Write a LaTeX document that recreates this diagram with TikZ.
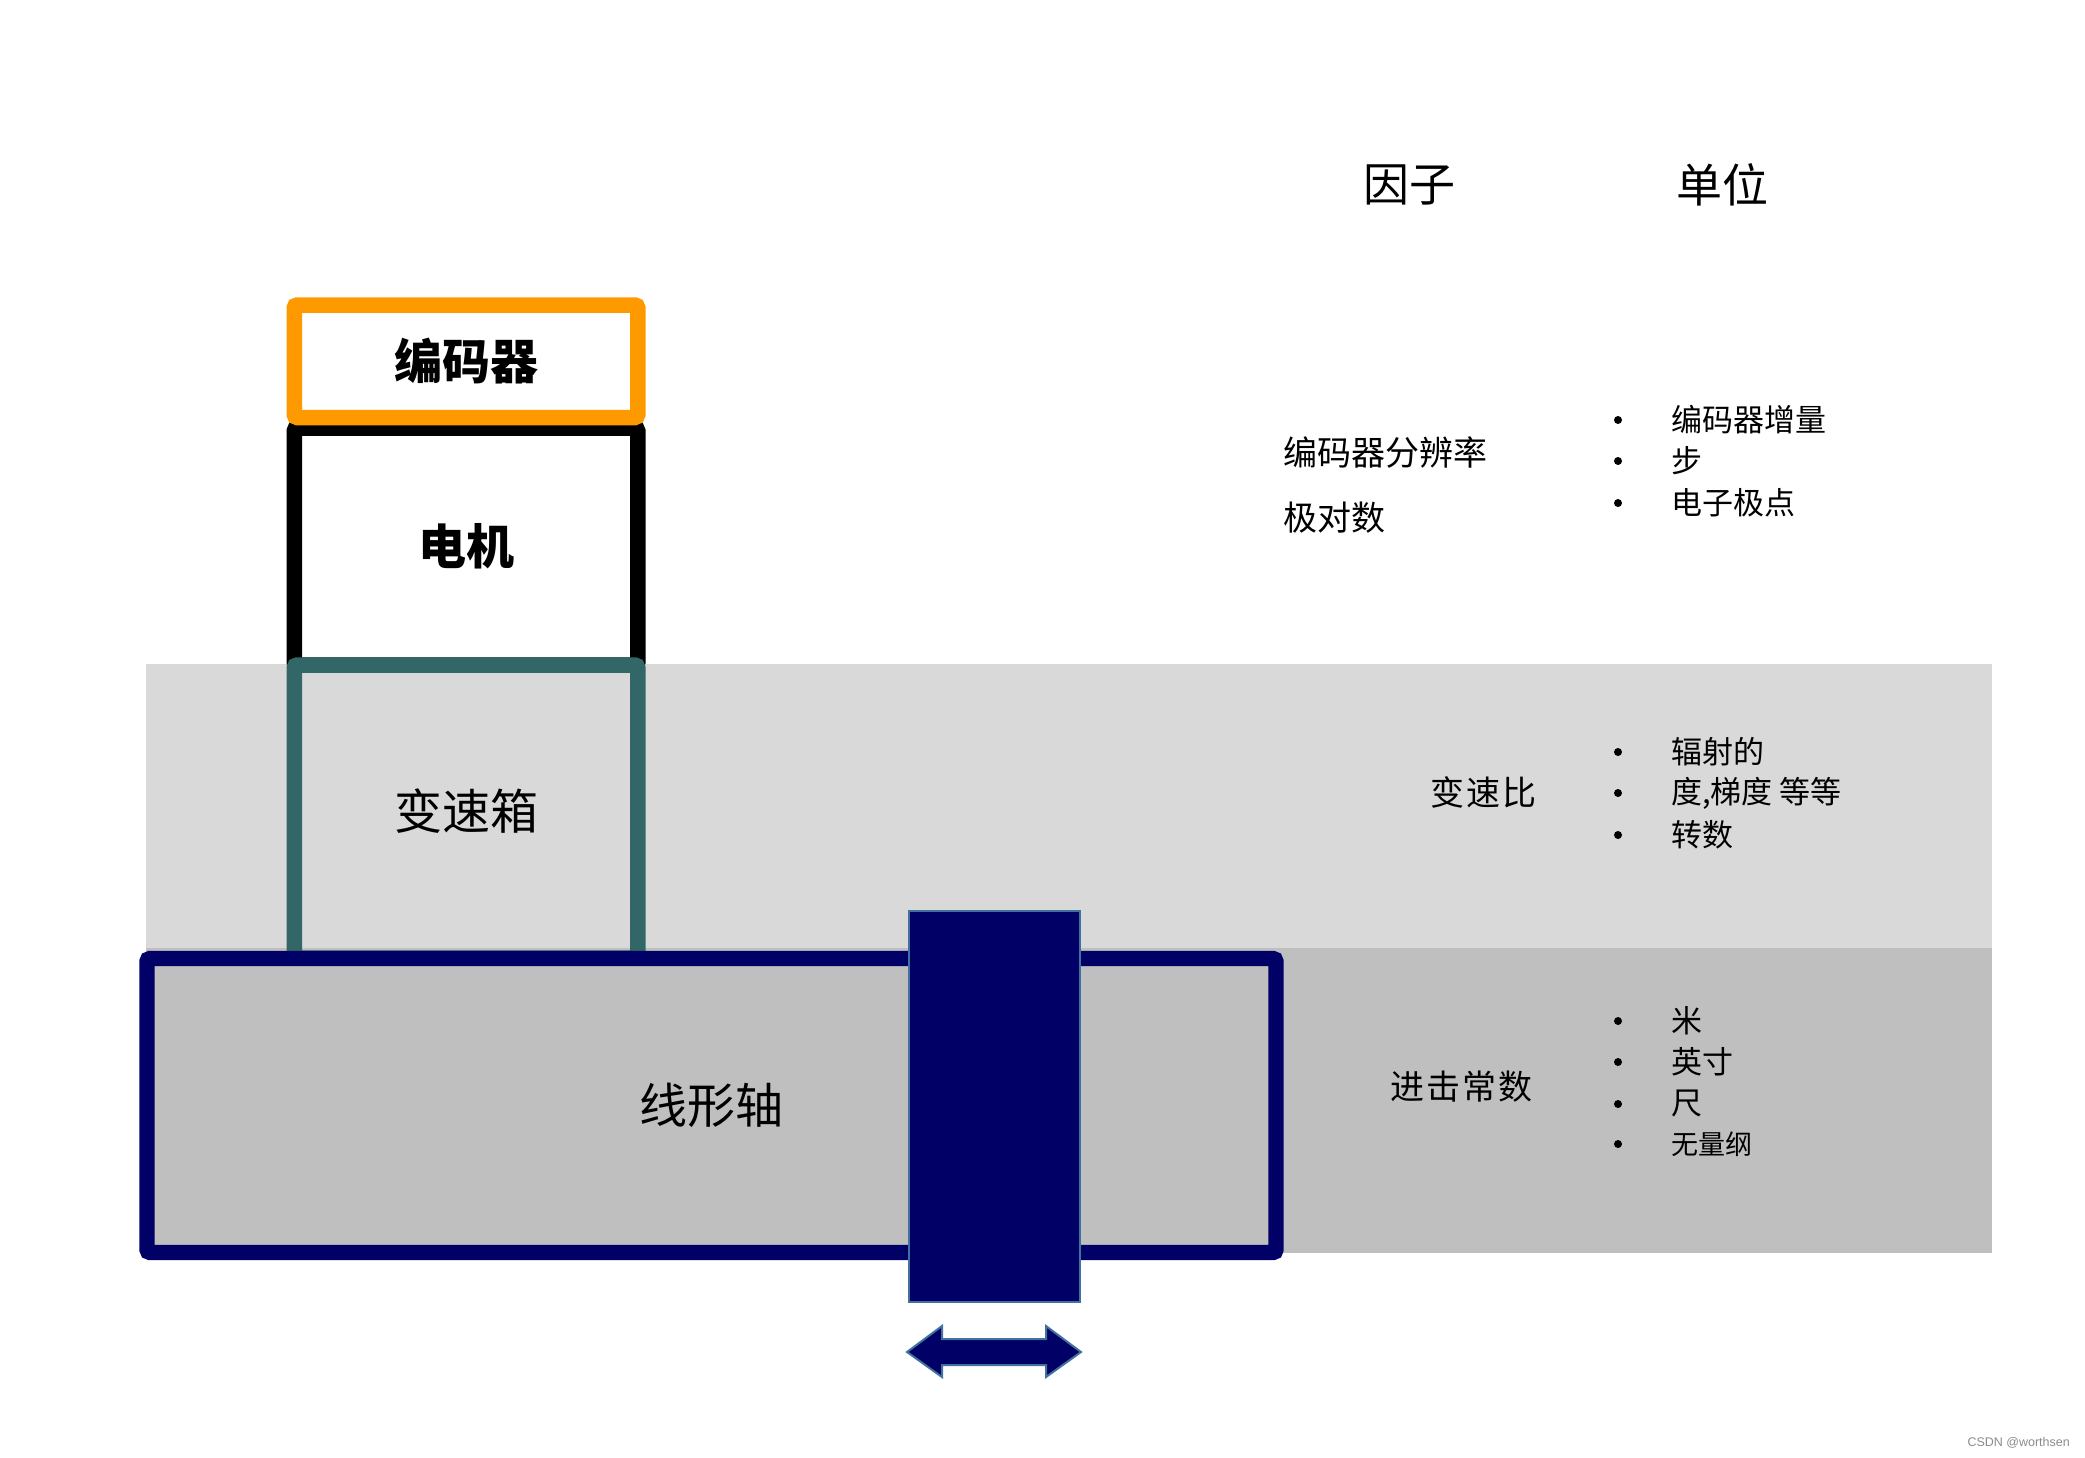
\documentclass[tikz,border=0pt]{standalone}
\usepackage{fontspec}
\newfontfamily\cjk{Noto Sans CJK SC}
\newfontfamily\wmfont{Liberation Sans}
\definecolor{orangeE}{HTML}{FF9900}
\definecolor{tealG}{HTML}{336666}
\definecolor{navyL}{HTML}{000066}
\definecolor{grayA}{HTML}{D9D9D9}
\definecolor{grayB}{HTML}{BFBFBF}
\definecolor{edgeB}{HTML}{41719C}
\begin{document}
\begin{tikzpicture}[x=1pt,y=-1pt,
  box/.style={inner sep=0pt, line width=15.5pt, rounded corners=3pt, font=\cjk\fontsize{48}{56}\selectfont},
  hdr/.style={font=\cjk\fontsize{46}{54}\selectfont, inner sep=0pt},
  fac/.style={font=\cjk\fontsize{34}{40}\selectfont, inner sep=0pt, anchor=west},
  itm/.style={font=\cjk\fontsize{31}{36}\selectfont, inner sep=0pt, anchor=west},
  bul/.style={circle, fill=black, minimum size=8pt, inner sep=0pt},
  slide/.style={fill=navyL, draw=edgeB, line width=2pt}]
\useasboundingbox (0,0) rectangle (2085,1457);
\fill[white] (0,0) rectangle (2085,1457);
% bands
\fill[grayA] (146,664) rectangle (1992,948);
\fill[grayB] (146,948) rectangle (1992,1253);
% stack
\node[box, draw=black, fill=white, minimum width=343.5pt, minimum height=237pt] (motor) at (466,546.5) {\bfseries 电机};
\node[box, draw=tealG, minimum width=343.5pt, minimum height=293pt] (gear) at (466,811.5) {变速箱};
\node[box, draw=orangeE, fill=white, minimum width=343.5pt, minimum height=112.5pt] (enc) at (466,361.25) {\bfseries 编码器};
\node[box, line width=15.3pt, draw=navyL, fill=grayB, minimum width=1129pt, minimum height=294pt] (axis) at (711.5,1105.5) {线形轴};
% carriage
\node[slide, minimum width=171pt, minimum height=391pt, inner sep=0pt] (carr) at (994,1106) {};
\draw[slide, line join=miter] (907,1352) -- (942,1326) -- (942,1339) -- (1046,1339) -- (1046,1326)
  -- (1081,1352) -- (1046,1377) -- (1046,1365) -- (942,1365) -- (942,1377) -- cycle;
% headers
\node[hdr] (hf) at (1409,185) {因子};
\node[hdr] (hu) at (1722,185) {单位};
% factors
\node[fac] (f1) at (1283,453) {编码器分辨率};
\node[fac] (f2) at (1283,518) {极对数};
\node[fac, anchor=east] (f3) at (1537,792) {变\kern2pt 速\kern2pt 比};
\node[fac, anchor=east] (f4) at (1533,1087) {进\kern2pt 击\kern2pt 常\kern2pt 数};
% units
\node[bul] (b1) at (1618,420) {};
\node[bul] (b2) at (1618,461) {};
\node[bul] (b3) at (1618,503) {};
\node[itm] (u1) at (1671,420) {编码器增量};
\node[itm] (u2) at (1671,461) {步};
\node[itm] (u3) at (1671,503) {电子极点};
\node[bul] (b4) at (1618,752) {};
\node[bul] (b5) at (1618,793) {};
\node[bul] (b6) at (1618,835) {};
\node[itm] (u4) at (1671,752) {辐射的};
\node[itm] (u5) at (1671,793) {度,梯度 等等};
\node[itm] (u6) at (1671,835) {转数};
\node[bul] (b7) at (1618,1021) {};
\node[bul] (b8) at (1618,1062) {};
\node[bul] (b9) at (1618,1104) {};
\node[bul] (b10) at (1618,1144) {};
\node[itm] (u7) at (1671,1021) {米};
\node[itm] (u8) at (1671,1062) {英寸};
\node[itm] (u9) at (1671,1104) {尺};
\node[itm, font=\cjk\fontsize{27}{32}\selectfont] (u10) at (1671,1144) {无量纲};
% watermark
\node[font=\wmfont\fontsize{12.5}{14}\selectfont, text=black!45, anchor=east, inner sep=0pt] (wm) at (2070,1443) {CSDN @worthsen};
\end{tikzpicture}
\end{document}
